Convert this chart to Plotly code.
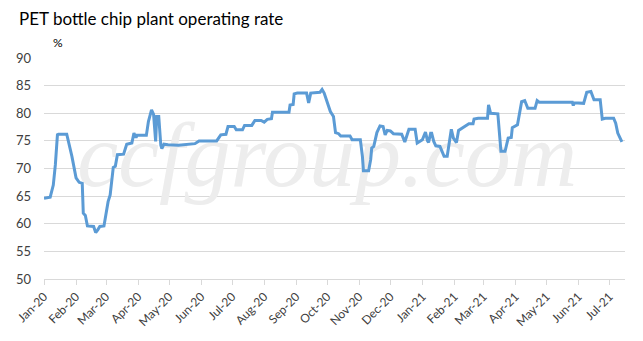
import pandas as pd
import plotly.graph_objects as go

start_date = "2020-01-01"
# day offsets from 2020-01-01 and the operating rate (%)
day_offset = [0, 6, 9, 11, 13, 14, 22, 27, 31, 34, 37, 38, 40, 42, 48, 50, 52, 54, 58, 60,
              62, 64, 67, 69, 71, 77, 80, 85, 87, 89, 90, 99, 101, 104, 106, 108, 109, 111, 113, 114,
              116, 120, 130, 146, 150, 167, 171, 176, 178, 184, 186, 192, 194, 201, 204, 210, 213, 216, 220, 221,
              237, 238, 241, 242, 245, 254, 256, 258, 267, 269, 271, 277, 280, 282, 285, 287, 296, 298, 306, 308,
              309, 314, 316, 317, 319, 322, 325, 328, 330, 332, 335, 338, 346, 349, 351, 353, 359, 361, 366, 367,
              369, 371, 372, 374, 375, 377, 379, 383, 387, 390, 394, 396, 399, 401, 404, 408, 411, 415, 416, 420,
              429, 430, 432, 439, 442, 446, 449, 452, 453, 458, 459, 462, 465, 468, 475, 477, 479, 511, 512, 513,
              522, 525, 529, 532, 538, 540, 543, 551, 553, 555, 559]
rate = [64.6, 64.8, 67.0, 70.7, 76.1, 76.2, 76.2, 72.2, 68.3, 67.5, 67.3, 61.9, 61.5, 59.6, 59.5, 58.4, 58.9, 59.5, 59.6, 61.9,
        64.0, 65.2, 70.2, 70.4, 72.5, 72.6, 74.4, 74.6, 76.4, 75.6, 76.0, 76.0, 78.5, 80.6, 79.8, 74.9, 79.4, 79.4, 74.2, 73.6,
        74.4, 74.3, 74.2, 74.5, 75.0, 75.0, 76.1, 76.2, 77.6, 77.6, 77.0, 77.0, 77.8, 77.8, 78.7, 78.7, 78.4, 78.9, 79.0, 80.2,
        80.2, 81.5, 81.6, 83.5, 83.65, 83.65, 81.85, 83.65, 83.8, 84.3, 83.65, 80.3, 79.4, 76.5, 76.3, 75.9, 75.9, 75.2, 75.2, 72.2,
        69.6, 69.6, 71.6, 73.7, 74.0, 76.5, 77.7, 77.6, 76.1, 76.9, 76.8, 76.3, 76.2, 74.8, 75.8, 77.1, 77.1, 74.6, 75.2, 75.7,
        76.6, 75.0, 74.7, 76.4, 76.4, 74.9, 74.1, 74.0, 72.2, 72.2, 77.1, 75.5, 74.7, 76.9, 77.3, 77.7, 78.1, 78.1, 78.95, 79.1,
        79.1, 81.5, 80.0, 79.9, 73.1, 73.1, 75.5, 75.6, 77.4, 77.9, 79.1, 82.1, 82.3, 80.9, 80.9, 82.3, 82.0, 82.0, 81.4, 81.9,
        81.8, 83.8, 83.95, 82.45, 82.45, 78.95, 79.1, 79.1, 78.2, 76.4, 74.8]

title_text = "PET bottle chip plant operating rate"
unit_text = "%"
watermark = "ccfgroup.com"

dates = pd.Timestamp(start_date) + pd.to_timedelta(day_offset, unit="D")

FONT = "Lato, 'Noto Sans', sans-serif"

fig = go.Figure()
fig.add_trace(go.Scatter(
    x=[pd.Timestamp("2020-10-01")], y=[71], mode="text", text=[f"<i>{watermark}</i>"],
    textfont=dict(family="Liberation Serif, serif", size=92, color="#EDEDED"),
    hoverinfo="skip", showlegend=False, cliponaxis=False))
fig.add_trace(go.Scatter(
    x=dates, y=rate, mode="lines",
    line=dict(color="#5B9BD5", width=3), showlegend=False))

fig.update_layout(
    width=643, height=341,
    margin=dict(l=44, r=18, t=58, b=62),
    paper_bgcolor="white", plot_bgcolor="white",
    font=dict(family=FONT, color="#000000"),
    title=dict(text=title_text, x=19 / 643, xanchor="left", y=1 - 19 / 341, yanchor="middle",
               font=dict(family=FONT, size=17, color="#000000")),
    annotations=[dict(text=unit_text, xref="paper", yref="paper", x=0.012, y=1, xanchor="left",
                      yanchor="bottom", yshift=6, showarrow=False,
                      font=dict(family=FONT, size=12, color="#000000"))],
)
fig.update_xaxes(
    type="date", range=["2020-01-01", "2021-07-16"],
    tick0="2020-01-01", dtick="M1", tickformat="%b-%y", tickangle=-45,
    ticks="outside", ticklen=5, tickcolor="#D9D9D9",
    showline=True, linecolor="#D9D9D9", linewidth=1,
    showgrid=False, zeroline=False,
    tickfont=dict(family=FONT, size=12, color="#404040"))
fig.update_yaxes(
    range=[50, 90], dtick=5, showgrid=True, gridcolor="#D9D9D9", gridwidth=1,
    zeroline=False, showline=False, ticks="", ticklabelstandoff=12,
    tickfont=dict(family=FONT, size=13, color="#404040"))

fig.write_html("out.html")
